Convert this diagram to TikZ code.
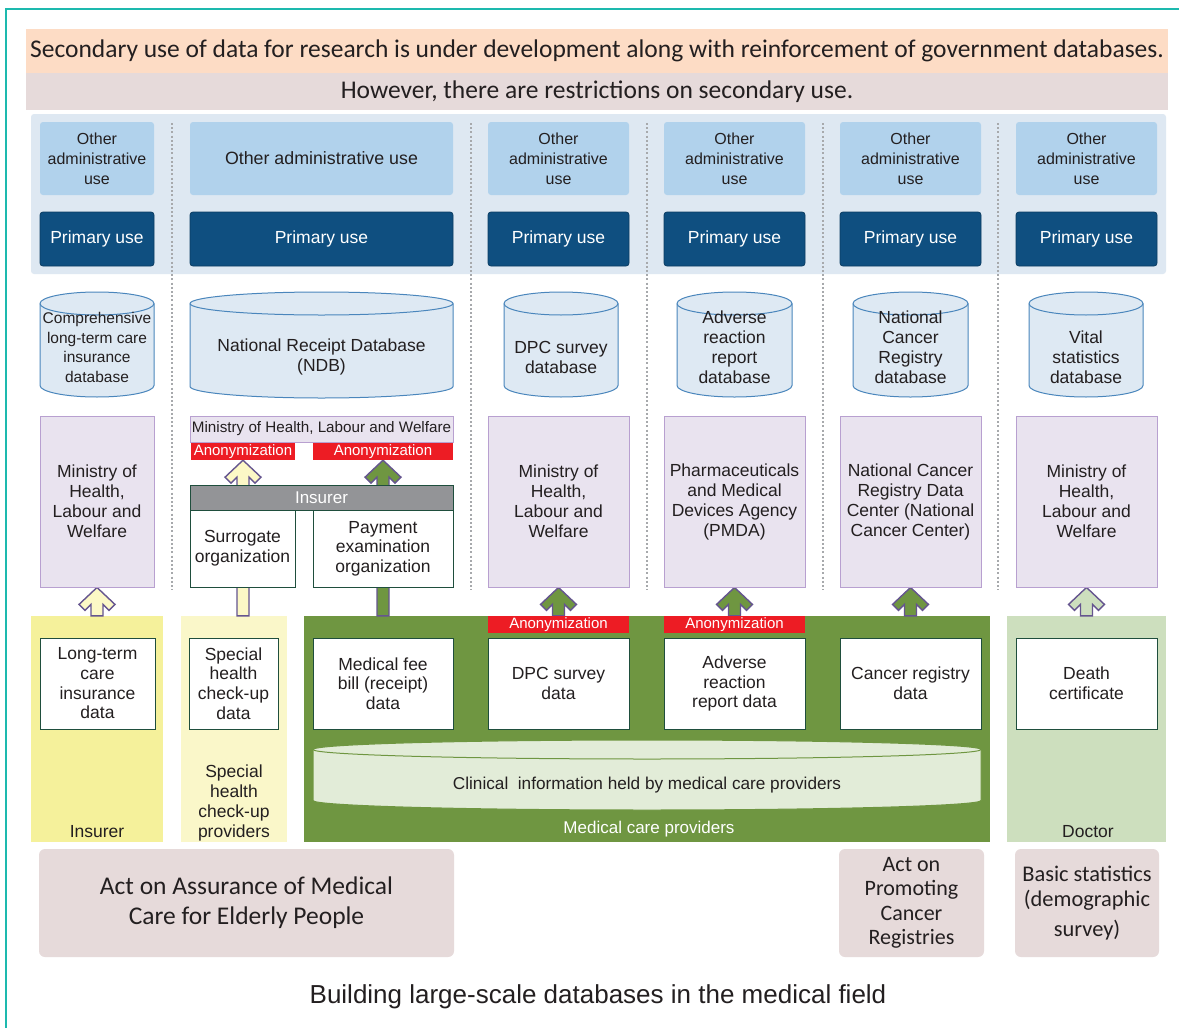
\documentclass[tikz,border=0pt]{standalone}
\usepackage{fontspec}
\setmainfont{Liberation Sans}
\newfontfamily\calfont{Carlito}
\usetikzlibrary{calc}
\pgfdeclarelayer{bg}\pgfdeclarelayer{mid}\pgfsetlayers{bg,mid,main}
\definecolor{tealb}{HTML}{1DB9AE}
\definecolor{peach}{HTML}{FDDCC5}
\definecolor{pinkg}{HTML}{E6DADA}
\definecolor{bluereg}{HTML}{DEE8F2}
\definecolor{lblue}{HTML}{B1D2EC}
\definecolor{dblue}{HTML}{0F4F80}
\definecolor{dbluebd}{HTML}{0B3D63}
\definecolor{cylfill}{HTML}{DEE9F3}
\definecolor{cylbd}{HTML}{4A86BC}
\definecolor{lav}{HTML}{E9E3EF}
\definecolor{lavbd}{HTML}{B8A0D0}
\definecolor{redb}{HTML}{ED1C24}
\definecolor{greyb}{HTML}{939497}
\definecolor{dgreen}{HTML}{1F4E3D}
\definecolor{yel}{HTML}{F5F19B}
\definecolor{pyel}{HTML}{FAF7C9}
\definecolor{ayel}{HTML}{FCF8C6}
\definecolor{grn}{HTML}{6F9641}
\definecolor{lgrn}{HTML}{CDDFBE}
\definecolor{clin}{HTML}{E2ECD8}
\definecolor{arrbd}{HTML}{65558F}
\definecolor{sepc}{HTML}{A7A9AC}
\definecolor{txt}{HTML}{231F20}
\newcommand\fs[2]{\fontsize{#1}{#2}\selectfont}
\newcommand\bx[7]{%
 \pgfmathsetmacro\bxw{#5-#3}\pgfmathsetmacro\bxh{#6-#4}%
 \node[#1, inner sep=0pt, minimum width=\bxw pt, minimum height=\bxh pt, align=center] (#2) at ({(#3+#5)/2},{-(#4+#6)/2}) {#7};}
\newcommand\cyl[9]{%
 \pgfmathsetmacro\crx{(#5-#3)/2}%
 \path[cylpath] (#3,-#4-#7) -- (#3,-#6+#7) arc[start angle=180,end angle=360,x radius=\crx,y radius=#7] -- (#5,-#4-#7) arc[start angle=0,end angle=180,x radius=\crx,y radius=#7] -- cycle;
 \draw[cylpath, fill=none] (#3,-#4-#7) arc[start angle=180,end angle=360,x radius=\crx,y radius=#7];
 \node[#1, align=center, inner sep=0pt] (#2) at ({(#3+#5)/2},-#8) {#9};}
\newcommand\barrow[3]{%
 \draw[blockarrow, fill=#1] let \p1=(#2), \p2=(#3) in (\x1,\y1) -- (\x1+18pt,\y1-17pt) -- (\x1+12pt,\y1-23pt) -- (\x1+6pt,\y1-17pt) -- (\x1+6pt,\y2) -- (\x1-6pt,\y2) -- (\x1-6pt,\y1-17pt) -- (\x1-12pt,\y1-23pt) -- (\x1-18pt,\y1-17pt) -- cycle;}
\begin{document}
\begin{tikzpicture}[x=1pt,y=1pt,
  every node/.style={text=txt},
  band/.style={fill=#1},
  oabox/.style={fill=lblue, rounded corners=3pt, font=\fs{16}{20}},
  oaboxw/.style={fill=lblue, rounded corners=3pt, font=\fs{17.8}{20}},
  pubox/.style={fill=dblue, draw=dbluebd, line width=0.8pt, rounded corners=3pt, text=white, font=\fs{17.5}{20}},
  minbox/.style={fill=lav, draw=lavbd, line width=0.9pt, font=\fs{17.5}{20}},
  anon/.style={fill=redb, text=white, font=\fs{15}{17}},
  databox/.style={fill=white, draw=dgreen, line width=1pt, font=\fs{17.5}{19.7}},
  cylpath/.style={fill=cylfill, draw=cylbd, line width=1pt},
  cyltxt/.style={font=\fs{17.5}{20}},
  lawbox/.style={fill=pinkg, rounded corners=6pt},
  blockarrow/.style={draw=arrbd, line width=1.4pt, line join=miter},
  sep/.style={draw=sepc, line width=1.3pt, dash pattern=on 2pt off 2.2pt}
]
\useasboundingbox (0,0) rectangle (1179,-1028);
\begin{pgfonlayer}{bg}
\fill[white] (0,0) rectangle (1179,-1028);
\draw[tealb, line width=2.6pt] (6,-1040) -- (6,-9) -- (1190,-9);
\fill[bluereg, rounded corners=3pt] (31,-114) rectangle (1166,-274);
\foreach \sx in {172,471,647,823,998} \draw[sep] (\sx,-123) -- (\sx,-590);
\end{pgfonlayer}
% header bands
\bx{band=peach, font=\calfont\fs{25.5}{28}}{hdr1}{26}{29}{1168}{73}{Secondary use of data for research is under development along with reinforcement of government databases.}
\bx{band=pinkg, font=\calfont\fs{25.5}{28}}{hdr2}{26}{73}{1168}{110}{However, there are restrictions on secondary use.}
% other administrative use
\bx{oabox}{oa1}{40}{122}{154}{195}{Other\\administrative\\use}
\bx{oaboxw}{oa2}{190}{122}{453}{195}{Other administrative use}
\bx{oabox}{oa3}{488}{122}{629}{195}{Other\\administrative\\use}
\bx{oabox}{oa4}{664}{122}{805}{195}{Other\\administrative\\use}
\bx{oabox}{oa5}{840}{122}{981}{195}{Other\\administrative\\use}
\bx{oabox}{oa6}{1016}{122}{1157}{195}{Other\\administrative\\use}
% primary use
\bx{pubox}{pu1}{40}{212}{154}{266}{Primary use}
\bx{pubox}{pu2}{190}{212}{453}{266}{Primary use}
\bx{pubox}{pu3}{488}{212}{629}{266}{Primary use}
\bx{pubox}{pu4}{664}{212}{805}{266}{Primary use}
\bx{pubox}{pu5}{840}{212}{981}{266}{Primary use}
\bx{pubox}{pu6}{1016}{212}{1157}{266}{Primary use}
% databases
\cyl{font=\fs{15.5}{19.7}}{db1}{40}{292}{154}{397}{11.5}{347.5}{Comprehensive\\long-term care\\insurance\\database}
\cyl{cyltxt}{db2}{190}{292}{453}{398}{11.5}{357}{National Receipt Database\\(NDB)}
\cyl{cyltxt}{db3}{504}{292}{618}{397}{11.5}{357}{DPC survey\\database}
\cyl{cyltxt}{db4}{677}{292}{792}{397}{11.5}{347}{Adverse\\reaction\\report\\database}
\cyl{cyltxt}{db5}{853}{292}{968}{397}{11.5}{347}{National\\Cancer\\Registry\\database}
\cyl{cyltxt}{db6}{1029}{292}{1143}{397}{11.5}{357}{Vital\\statistics\\database}
% ministries
\bx{minbox}{m1}{40}{416}{154}{587}{Ministry of\\Health,\\Labour and\\Welfare}
\bx{minbox, font=\fs{15.2}{17}}{m2}{190}{416}{453}{442}{Ministry of Health, Labour and Welfare}
\bx{minbox}{m3}{488}{416}{629}{587}{Ministry of\\Health,\\Labour and\\Welfare}
\bx{minbox}{m4}{664}{416}{805}{587}{Pharmaceuticals\\and Medical\\Devices Agency\\(PMDA)}
\bx{minbox}{m5}{840}{416}{981}{587}{National Cancer\\Registry Data\\Center (National\\Cancer Center)}
\bx{minbox}{m6}{1016}{416}{1157}{587}{Ministry of\\Health,\\Labour and\\Welfare}
\bx{anon}{an2a}{191}{443}{295}{460}{Anonymization}
\bx{anon}{an2b}{313}{443}{453}{460}{Anonymization}
% insurer / organizations
\bx{fill=greyb, draw=dgreen, line width=0.8pt, text=white, font=\fs{17}{20}}{ins}{190}{485}{453}{510}{Insurer}
\bx{databox}{sur}{190}{510}{295}{587}{Surrogate\\organization}
\bx{databox}{pay}{313}{510}{453}{587}{Payment\\examination\\organization}
% bottom backgrounds
\begin{pgfonlayer}{bg}
\bx{fill=yel}{bgIns}{31}{616}{163}{842}{}
\bx{fill=pyel}{bgSp}{181}{616}{287}{842}{}
\bx{fill=grn}{bgMed}{304}{616}{990}{842}{}
\bx{fill=lgrn}{bgDoc}{1007}{616}{1166}{842}{}
\end{pgfonlayer}
\node[font=\fs{17.5}{20}] (lIns) at (97,-832) {Insurer};
\node[font=\fs{17.5}{19.7}, align=center] (lSp) at (234,-803) {Special\\health\\check-up\\providers};
\node[font=\fs{17}{20}, text=white] (lMed) at (649,-829) {Medical care providers};
\node[font=\fs{17.5}{20}] (lDoc) at (1088,-832) {Doctor};
\bx{anon}{an3}{488}{616}{629}{633}{Anonymization}
\bx{anon}{an4}{664}{616}{805}{633}{Anonymization}
% data boxes
\bx{databox}{d1}{40}{638}{155}{729}{Long-term\\care\\insurance\\data}
\bx{databox}{d2}{189}{638}{278}{729}{Special\\health\\check-up\\data}
\bx{databox}{d3}{313}{638}{453}{729}{Medical fee\\bill (receipt)\\data}
\bx{databox}{d4}{488}{638}{629}{729}{DPC survey\\data}
\bx{databox}{d5}{664}{638}{805}{729}{Adverse\\reaction\\report data}
\bx{databox}{d6}{840}{638}{981}{729}{Cancer registry\\data}
\bx{databox}{d7}{1016}{638}{1157}{729}{Death\\certificate}
% clinical cylinder
\begin{scope}[cylpath/.style={fill=clin, draw=grn, line width=1pt}]
\cyl{font=\fs{17.2}{20}}{clin}{313}{740}{981}{810}{9.5}{785}{Clinical\ \ information held by medical care providers}
\end{scope}
% laws
\bx{lawbox, font=\calfont\fs{25.5}{30}}{law1}{39}{849}{454}{957}{Act on Assurance of Medical\\Care for Elderly People}
\bx{lawbox, font=\calfont\fs{22}{24.5}}{law2}{839}{849}{984}{957}{Act on\\Promoting\\Cancer\\Registries}
\bx{lawbox, font=\calfont\fs{22.4}{25}}{law3}{1015}{849}{1159}{957}{Basic statistics\\(demographic\\[5pt]survey)}
\node[font=\fs{26}{30}] (cap) at (598,-997) {Building large-scale databases in the medical field};
% arrows
\begin{pgfonlayer}{mid}
\barrow{ayel}{m1.south}{bgIns.north}
\barrow{ayel}{an2a.south}{bgSp.north}
\barrow{grn}{an2b.south}{bgMed.north}
\barrow{grn}{m3.south}{an3.north}
\barrow{grn}{m4.south}{an4.north}
\barrow{grn}{m5.south}{bgMed.north}
\barrow{lgrn}{m6.south}{bgDoc.north}
\end{pgfonlayer}
\end{tikzpicture}
\end{document}
